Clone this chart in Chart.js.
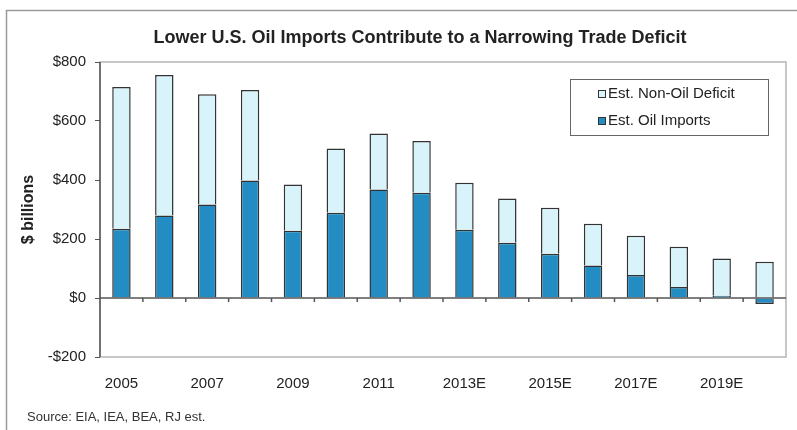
<!DOCTYPE html>
<html>
<head>
<meta charset="utf-8">
<script src="https://cdn.jsdelivr.net/npm/chart.js@4.4.1/dist/chart.umd.min.js"></script>
<style>
  html, body { margin: 0; padding: 0; background: #fff; }
  #wrap { width: 797px; height: 430px; }
</style>
</head>
<body>
<div id="wrap"><canvas id="myChart" width="797" height="430"></canvas></div>
<script>
// Data ($ billions)
const years = ['2005', '2006', '2007', '2008', '2009', '2010', '2011', '2012',
  '2013E', '2014E', '2015E', '2016E', '2017E', '2018E', '2019E', '2020E'];
const oilImports = [235, 280, 317, 398, 228, 289, 368, 357, 231, 187, 150, 110, 78, 37, 8, -20];
const nonOilDeficit = [480, 476, 374, 307, 157, 218, 190, 175, 160, 150, 156, 142, 133, 137, 126, 123];
const yTicks = [-200, 0, 200, 400, 600, 800];

const font = "'Liberation Sans', Arial, sans-serif";

// frame, title, zero line, small ticks on the zero line, legend box, source
const decor = {
  id: 'decor',
  beforeDraw(chart) {
    const ctx = chart.ctx;
    const a = chart.chartArea;
    ctx.save();
    ctx.strokeStyle = '#9a9a9a';
    ctx.lineWidth = 1.5;
    ctx.strokeRect(6.5, 10.5, 800, 430);
    ctx.strokeStyle = '#b5b5b5';
    ctx.lineWidth = 1.5;
    ctx.strokeRect(a.left, a.top, a.right - a.left, a.bottom - a.top);

    ctx.font = 'bold 18px ' + font;
    ctx.fillStyle = '#222';
    ctx.textAlign = 'center';
    ctx.textBaseline = 'middle';
    ctx.fillText('Lower U.S. Oil Imports Contribute to a Narrowing Trade Deficit', 420, 38);
    ctx.restore();
  },
  afterDatasetsDraw(chart) {
    const ctx = chart.ctx;
    const a = chart.chartArea;
    const x = chart.scales.x, y = chart.scales.y;
    const y0 = y.getPixelForValue(0);
    ctx.save();
    ctx.strokeStyle = '#555';
    ctx.lineWidth = 1.5;
    ctx.beginPath();
    ctx.moveTo(a.left, y0);
    ctx.lineTo(a.right, y0);
    for (let i = 1; i < years.length; i++) {
      const bx = (x.getPixelForValue(i - 1) + x.getPixelForValue(i)) / 2;
      ctx.moveTo(bx, y0);
      ctx.lineTo(bx, y0 + 4);
    }
    ctx.stroke();
    ctx.strokeStyle = '#555';
    ctx.beginPath();
    ctx.moveTo(a.left, a.top);
    ctx.lineTo(a.left, a.bottom);
    ctx.stroke();

    // legend box
    const lx = 570, ly = 79, lw = 198, lh = 56;
    ctx.fillStyle = '#fff';
    ctx.fillRect(lx, ly, lw, lh);
    ctx.strokeStyle = '#666';
    ctx.lineWidth = 1;
    ctx.strokeRect(lx + 0.5, ly + 0.5, lw, lh);
    const items = [chart.data.datasets[1], chart.data.datasets[0]];
    ctx.font = '15px ' + font;
    ctx.textBaseline = 'middle';
    items.forEach((ds, i) => {
      const cy = 94 + i * 27;
      ctx.fillStyle = ds.backgroundColor;
      ctx.fillRect(598, cy - 4, 8, 8);
      ctx.strokeStyle = '#333';
      ctx.strokeRect(598.5, cy - 3.5, 7, 7);
      ctx.fillStyle = '#222';
      ctx.fillText(ds.label, 608, cy);
    });

    // source note
    ctx.font = '13px ' + font;
    ctx.fillStyle = '#333';
    ctx.textBaseline = 'alphabetic';
    ctx.fillText('Source: EIA, IEA, BEA, RJ est.', 27, 421);
    ctx.restore();
  }
};

new Chart('myChart', {
  type: 'bar',
  data: {
    labels: years,
    datasets: [{
      label: 'Est. Oil Imports',
      data: oilImports,
      backgroundColor: '#238cc2',
      borderColor: '#333',
      borderWidth: 1.5,
      categoryPercentage: 1,
      barPercentage: 0.43
    }, {
      label: 'Est. Non-Oil Deficit',
      data: nonOilDeficit,
      backgroundColor: '#d8f4fa',
      borderColor: '#333',
      borderWidth: 1.5,
      categoryPercentage: 1,
      barPercentage: 0.43
    }]
  },
  options: {
    responsive: false,
    animation: false,
    layout: { padding: { left: 18, right: 11, top: 62, bottom: 0 } },
    plugins: {
      legend: { display: false },
      tooltip: { enabled: false },
      title: { display: false }
    },
    scales: {
      x: {
        stacked: true,
        grid: { display: false },
        border: { display: false },
        ticks: {
          autoSkip: false,
          maxRotation: 0,
          color: '#222',
          font: { family: font, size: 15 },
          padding: 10,
          callback: (v, i) => (i % 2 === 0 ? years[i] : '')
        },
        afterFit: s => { s.height = 73; }
      },
      y: {
        stacked: true,
        min: -200,
        max: 800,
        afterBuildTicks: s => { s.ticks = yTicks.map(v => ({ value: v })); },
        grid: { drawOnChartArea: false, tickLength: 5, color: '#555' },
        border: { display: false },
        ticks: {
          color: '#222',
          font: { family: font, size: 15 },
          padding: 9,
          callback: v => (v < 0 ? '-$' + Math.abs(v) : '$' + v)
        },
        title: {
          display: true,
          text: '$ billions',
          color: '#222',
          font: { family: font, size: 16, weight: 'bold' },
          padding: { top: 1, bottom: 10 }
        },
        afterFit: s => { s.width = 82; }
      }
    }
  },
  plugins: [decor]
});
</script>
</body>
</html>
